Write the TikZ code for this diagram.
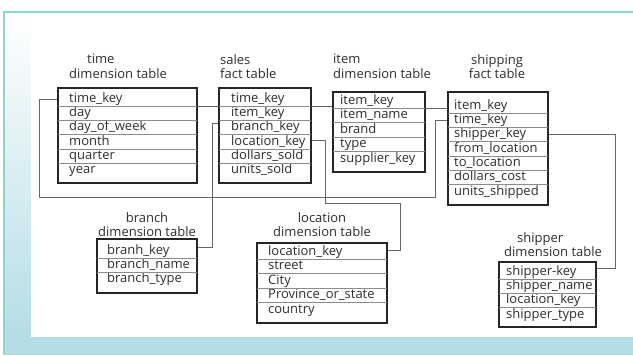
\documentclass[tikz,border=0pt]{standalone}
\usepackage{fontspec}
\setmainfont{Open Sans}
\usepackage{tikz}
\usetikzlibrary{positioning}
\usepackage{xcolor}
\definecolor{panelblue}{HTML}{B5DDE6}
\definecolor{frameteal}{HTML}{8FD3CF}
\definecolor{inkgray}{HTML}{2E2E2E}

\begin{document}
\begin{tikzpicture}[x=1pt,y=-1pt,font=\fontsize{13}{14.5}\selectfont,
  tbl/.style={draw=black!85,line width=1.3pt,rectangle,inner sep=0pt},
  tblrow/.style={anchor=west,inner sep=0pt,text height=10pt,text depth=3.5pt,text=inkgray},
  tbltitle/.style={anchor=north,inner sep=0pt,align=center,text=inkgray},
  rowsep/.style={draw=black!45,line width=0.6pt,shorten <=0.6pt,shorten >=0.6pt},
  link/.style={draw=black!60,line width=0.8pt}]
\useasboundingbox (0,0) rectangle (633,356);
% slide background
\fill[white] (0,0) rectangle (633,356);
\fill[panelblue] (4,12) rectangle (633,355);
\shade[top color=white,bottom color=panelblue] (4,12) rectangle (31,337);
\fill[white] (31,12) rectangle (633,337);
\draw[frameteal,line width=1.5pt] (4,355) -- (4,12) -- (633,12);

% titles
\node[tbltitle,align=left,anchor=north west] (time-t) at (69,54) {\hspace*{18pt}time\\dimension table};
\node[tbltitle,align=left,anchor=north west] (sales-t) at (220,54) {sales\\fact table};
\node[tbltitle,align=left,anchor=north west] (item-t) at (333,54) {item\\dimension table};
\node[tbltitle] (shipping-t) at (497,54) {shipping\\fact table};
\node[tbltitle] (branch-t) at (147,212) {branch\\dimension table};
\node[tbltitle] (location-t) at (322,212) {location\\dimension table};
\node[tbltitle,align=left,anchor=north west] (shipper-t) at (504,232) {\hspace*{13pt}shipper\\dimension table};

% table frames
\node[tbl,minimum width=139pt,minimum height=95pt] (time) at (127.5,135.5) {};
\node[tbl,minimum width=92pt,minimum height=95pt] (sales) at (265,135.5) {};
\node[tbl,minimum width=92pt,minimum height=80pt] (item) at (379,132) {};
\node[tbl,minimum width=100pt,minimum height=113pt] (shipping) at (498,148.5) {};
\node[tbl,minimum width=100pt,minimum height=54pt] (branch) at (147,266) {};
\node[tbl,minimum width=130pt,minimum height=80pt] (location) at (322,283) {};
\node[tbl,minimum width=97pt,minimum height=65pt] (shipper) at (547.5,294.5) {};

% rows
\foreach \t [count=\i] in {time\_key,day,day\_of\_week,month,quarter,year}
  \node[tblrow] (time-\i) at (69,{99+14.3*(\i-1)}) {\t};
\foreach \t [count=\i] in {time\_key,item\_key,branch\_key,location\_key,dollars\_sold,units\_sold}
  \node[tblrow] (sales-\i) at (231,{99+14.3*(\i-1)}) {\t};
\foreach \t [count=\i] in {item\_key,item\_name,brand,type,supplier\_key}
  \node[tblrow] (item-\i) at (340,{101+14.5*(\i-1)}) {\t};
\foreach \t [count=\i] in {item\_key,time\_key,shipper\_key,from\_location,to\_location,dollars\_cost,units\_shipped}
  \node[tblrow] (shipping-\i) at (454,{106+14.3*(\i-1)}) {\t};
\foreach \t [count=\i] in {branh\_key,branch\_name,branch\_type}
  \node[tblrow] (branch-\i) at (107,{251+14*(\i-1)}) {\t};
\foreach \t [count=\i] in {location\_key,street,City,Province\_or\_state,country}
  \node[tblrow] (location-\i) at (268,{252+14.5*(\i-1)}) {\t};
\foreach \t [count=\i] in {shipper-key,shipper\_name,location\_key,shipper\_type}
  \node[tblrow] (shipper-\i) at (506,{272+14.3*(\i-1)}) {\t};

% row separators
\foreach \i in {1,...,5} \draw[rowsep] (time.west |- time-\i.south) -- (time.east |- time-\i.south);
\foreach \i in {1,...,5} \draw[rowsep] (sales.west |- sales-\i.south) -- (sales.east |- sales-\i.south);
\foreach \i in {1,...,4} \draw[rowsep] (item.west |- item-\i.south) -- (item.east |- item-\i.south);
\foreach \i in {1,...,6} \draw[rowsep] (shipping.west |- shipping-\i.south) -- (shipping.east |- shipping-\i.south);
\foreach \i in {1,...,2} \draw[rowsep] (branch.west |- branch-\i.south) -- (branch.east |- branch-\i.south);
\foreach \i in {1,...,4} \draw[rowsep] (location.west |- location-\i.south) -- (location.east |- location-\i.south);
\foreach \i in {1,...,3} \draw[rowsep] (shipper.west |- shipper-\i.south) -- (shipper.east |- shipper-\i.south);

% key links
\draw[link] (time.east |- sales-1.south) -- (sales.west |- sales-1.south);
\draw[link] (sales.east |- sales-1.south) -- (item.west |- sales-1.south);
\draw[link] (item.east |- item-1.south) -- (shipping.west |- item-1.south);
\draw[link] (time.west |- time-1) -- ++(-18,0) |- (435,197) |- (shipping.west |- shipping-2);
\draw[link] ([yshift=4pt]sales.west |- sales-3) -| (212,247) -- (branch.east |- 0,247);
\draw[link] ([yshift=2pt]sales.east |- sales-4) -| (325,203) -- (400,203) |- ([yshift=2pt]location.east |- location-1);
\draw[link] (shipping.east |- shipping-3) -| ([xshift=19pt]shipper.east |- 0,268) -- (shipper.east |- 0,268);
\end{tikzpicture}
\end{document}
